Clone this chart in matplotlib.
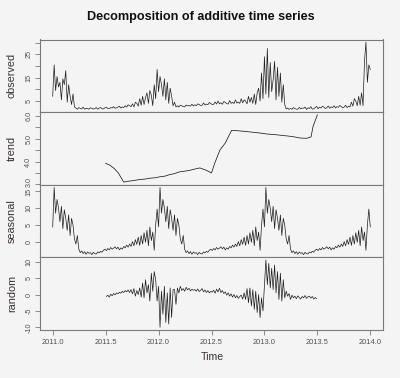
import numpy as np
import matplotlib
matplotlib.use("Agg")
import matplotlib.pyplot as plt
import matplotlib.transforms as mtransforms

plt.rcParams['font.family'] = ['Liberation Sans', 'DejaVu Sans']

# ---------------- data ----------------
steps_per_year = 73          # one value every 5 days
start_year = 2011.0

observed = [
    # 2011
    7.0, 20.5, 9.5, 15.5, 11.0, 13.0, 5.5, 14.5, 12.0, 18.0, 4.5, 12.0, 7.0, 3.5, 8.0, 2.5, 2.0,
    1.5, 2.2, 1.8, 1.6, 2.4, 1.5, 1.9, 1.8, 1.5, 2.1, 1.9, 1.6, 1.7, 2.2, 1.5, 2.0, 2.2,
    1.7, 1.6, 2.1, 2.4, 1.8, 1.7, 2.2, 2.0, 2.6, 1.9, 2.1, 2.4, 2.8, 2.0, 2.5, 2.2, 3.0,
    2.4, 3.4, 3.0, 2.6, 3.8, 2.5, 4.5, 4.0, 2.8, 6.0, 3.2, 7.0,
    3.5, 6.5, 8.5, 4.0, 9.5, 7.5, 3.0, 12.0, 6.0, 18.5,
    # 2012
    9.0, 15.5, 12.0, 7.0, 14.5, 5.5, 13.0, 4.0, 10.5, 7.0, 3.0, 4.5, 2.5,
    3.0, 2.4, 3.2, 3.0, 2.6, 2.5, 3.3, 2.9, 3.1, 2.8, 3.6, 2.9, 3.4, 3.0, 3.8, 3.5,
    3.1, 3.2, 4.2, 3.3, 3.7, 3.4, 4.4, 3.9, 3.5, 3.6, 4.6, 3.7, 5.0, 3.8, 4.3, 3.6,
    4.8, 4.4, 3.9, 3.7, 5.2, 4.0, 4.5, 3.9, 5.5, 4.1, 4.6,
    4.0, 6.0, 4.2, 5.5, 5.0, 3.8, 7.0, 4.5, 6.5, 4.0, 8.0, 3.5, 8.5, 10.5, 5.0, 17.0, 6.0,
    # 2013
    24.0, 8.0, 27.5, 6.5, 21.5, 9.0, 14.0, 22.0, 5.5, 19.5, 7.0, 17.0, 4.5, 12.0, 3.5,
    1.6, 2.0, 1.4, 1.8, 1.5, 2.2, 1.8, 1.5, 1.5, 2.3, 1.6, 2.0, 1.9, 2.4, 1.4, 2.1,
    1.8, 2.6, 1.5, 1.7, 2.2, 2.7, 1.7, 2.4, 2.0, 2.8, 2.4, 1.8, 2.1, 2.9, 1.9, 2.5,
    2.2, 3.0, 2.0, 2.6, 2.3, 3.1, 2.6, 2.1, 2.4, 3.2, 2.2, 2.8,
    2.5, 4.5, 2.8, 6.0, 5.0, 3.0, 7.0, 3.2, 8.5, 3.0, 22.0, 30.2, 13.0, 20.5, 18.5,
]

trend_time = [2011.50, 2011.54, 2011.58, 2011.62, 2011.67, 2011.72, 2011.77, 2011.82,
              2011.87, 2011.92, 2011.97, 2012.01, 2012.06, 2012.10, 2012.15, 2012.20,
              2012.25, 2012.30, 2012.35, 2012.39, 2012.45, 2012.50, 2012.53, 2012.58,
              2012.63, 2012.69, 2012.75, 2012.80, 2012.90, 2012.96, 2013.02, 2013.10,
              2013.18, 2013.26, 2013.34, 2013.40, 2013.44, 2013.46, 2013.50]
trend_values = [3.92, 3.84, 3.70, 3.50, 3.10, 3.14, 3.17, 3.21,
                3.23, 3.27, 3.29, 3.33, 3.36, 3.42, 3.47, 3.55,
                3.58, 3.62, 3.68, 3.72, 3.62, 3.50, 3.92, 4.51,
                4.81, 5.37, 5.35, 5.33, 5.28, 5.25, 5.21, 5.18,
                5.14, 5.10, 5.03, 5.02, 5.08, 5.55, 6.05]

# one year of the (periodic) seasonal figure
seasonal_year = [
    4.5, 16.0, 8.5, 12.5, 10.0, 6.0, 10.5, 4.0, 9.5, 7.0, 3.5, 8.0, 2.0, 7.0, 5.0, 1.0,
    -0.5, 2.0, -2.0, -3.0, -2.5, -3.3, -2.7, -3.5, -2.8, -3.2, -3.0, -3.6, -2.9, -3.3,
    -3.4, -2.8, -3.1, -2.6, -2.9, -2.3,
    -2.0, -2.4, -1.8, -2.2, -1.5, -2.0, -1.7, -1.3, -1.9, -1.4, -2.2, -1.6, -2.0, -1.2, -1.6,
    -0.8, -1.4, -0.5, -1.2, 0.2, -1.0, 0.8, -0.6, 1.5, -0.9,
    2.0, -0.5, 2.8, 0.0, 3.5, -1.0, 4.5, 0.5, 3.0, -2.3, 5.0, 9.7,
]

random_start_index = 37
random_vals = [
    -0.6, -0.2, -0.8, 0.1, -0.4, 0.3, -0.1, 0.5, 0.2, 0.7, 0.4, 1.0, 0.6, 1.2, 0.8,
    1.4, 0.6, 1.5, 0.2, 1.8, -0.5, 1.2, 0.0, 2.0, -0.8,
    3.5, -1.0, 4.5, 0.5, 3.0, -2.0, 6.5, 1.0, 7.0,
    4.5, -2.0, 2.5, -10.0, 1.0, -6.0, 2.5, -8.5, 0.5, -9.0, 2.0, -7.0, 1.5,
    1.5, -3.0, 2.0, 0.5, 2.5, 1.2, 1.8, 1.0, 2.2, 1.4, 1.9, 1.1, 1.6, 1.3,
    1.5, 1.0, 1.7, 0.9, 1.3, 1.8, 0.8, 1.4, 0.6, 1.2, 0.5, 1.0, 0.7,
    1.3, 0.4, 1.6, 0.8, 1.9, 0.6, 1.2, 0.3, 0.8, -0.2, 0.5, -0.5, 0.2, -0.8, 0.0, -1.0,
    -0.3, -1.2, -0.6,
    -0.2, -1.4, 0.5, -1.5, 1.8, -2.5, 2.0, -3.5, 1.5, -4.5, 1.0, -5.5, 0.0,
    -7.0, -1.0, -5.0, 3.0, 10.5,
    3.0, 9.5, 2.0, 8.0, 1.5, 9.0, 0.5, 7.0, -1.5, 6.5, -2.0, 4.5, -1.0, 1.0,
    -0.5, 0.3, -1.5, -0.2, -1.0, -0.5, -1.3, -0.4, -0.9, -1.4, -0.6, -1.0, -0.3, -1.2,
    -0.7, -0.5, -1.1, -0.6, -1.4, -0.9, -1.3,
]

x_ticks = [2011.0, 2011.5, 2012.0, 2012.5, 2013.0, 2013.5, 2014.0]

# ---------------- build series ----------------
obs = np.array(observed)
t_obs = start_year + np.arange(len(obs)) / steps_per_year
n_rep = int(np.ceil(len(obs) / len(seasonal_year)))
seas = np.tile(np.array(seasonal_year), n_rep)[:len(obs)]
rnd = np.array(random_vals)
t_rnd = start_year + (random_start_index + np.arange(len(rnd))) / steps_per_year


def rlim(v):
    lo, hi = float(np.min(v)), float(np.max(v))
    pad = 0.04 * (hi - lo)
    return lo - pad, hi + pad


# ---------------- figure ----------------
W, H = 400, 378
bg = '#f4f4f4'
fig = plt.figure(figsize=(W / 100, H / 100), dpi=100, facecolor=bg)

left_px, right_px = 40, 383
top_px, bottom_px = 39.5, 330
ph = (bottom_px - top_px) / 4

frame_col = '#7a7a7a'
txt_col = '#3a3030'
tick_col = '#505050'
line_col = '#1c1c1c'

panels = [
    ('observed', t_obs, obs, [0, 5, 10, 15, 20, 25, 30], {5: '5', 15: '15', 25: '25'}),
    ('trend', np.array(trend_time), np.array(trend_values),
     [3.0, 3.5, 4.0, 4.5, 5.0, 5.5, 6.0], {3.0: '3.0', 4.0: '4.0', 5.0: '5.0', 6.0: '6.0'}),
    ('seasonal', t_obs, seas, [-5, 0, 5, 10, 15], {0: '0', 5: '5', 10: '10', 15: '15'}),
    ('random', t_rnd, rnd, [-10, -5, 0, 5, 10], {-10: '-10', -5: '-5', 0: '0', 5: '5', 10: '10'}),
]

xlo, xhi = rlim(t_obs)
axes = []

for k, (name, tx, vy, yt, ylabs) in enumerate(panels):
    top = top_px + k * ph
    ax = fig.add_axes([left_px / W, 1 - (top + ph) / H, (right_px - left_px) / W, ph / H])
    axes.append(ax)
    ax.set_facecolor(bg)
    lw = 0.55 if name == 'trend' else 0.5
    ax.plot(tx, vy, color=line_col, lw=lw)
    ylo, yhi = rlim(vy)
    ax.set_ylim(ylo, yhi)
    ax.set_xlim(xlo, xhi)
    yt_in = [v for v in yt if ylo <= v <= yhi]
    ax.set_yticks(yt_in)
    ax.set_yticklabels([ylabs.get(v, '') for v in yt_in], rotation=90, va='center')
    for s in ax.spines.values():
        s.set_color(frame_col)
        s.set_linewidth(0.8)
    ax.tick_params(axis='y', direction='out', length=3.5, width=0.6, colors=frame_col,
                   labelcolor=tick_col, labelsize=5.2, pad=2)
    ax.set_xticks(x_ticks)
    if k < 3:
        ax.tick_params(axis='x', length=0, labelbottom=False)
    else:
        ax.set_xticklabels([f"{v:.1f}" for v in x_ticks])
        ax.tick_params(axis='x', direction='out', length=3.5, width=0.6, colors=frame_col,
                       labelcolor=tick_col, labelsize=5.4, pad=3)
    fig.text(12 / W, 1 - (top + ph / 2) / H, name, rotation=90, ha='center', va='center',
             fontsize=7.8, color=txt_col)

# small nudges so the labels at the trend/seasonal border do not collide
for lab in axes[1].get_yticklabels():
    if lab.get_text() == '3.0':
        lab.set_transform(lab.get_transform() + mtransforms.ScaledTranslation(0, 2.5 / 100, fig.dpi_scale_trans))
for lab in axes[2].get_yticklabels():
    if lab.get_text() == '15':
        lab.set_transform(lab.get_transform() + mtransforms.ScaledTranslation(0, -1.5 / 100, fig.dpi_scale_trans))

fig.text(201 / W, 1 - 17 / H, 'Decomposition of additive time series', ha='center',
         va='center', fontsize=9.1, fontweight='bold', color='#111111')
fig.text(212 / W, 1 - 357 / H, 'Time', ha='center', va='center', fontsize=7.6, color=txt_col)

fig.savefig('out.png', dpi=100, facecolor=fig.get_facecolor())
